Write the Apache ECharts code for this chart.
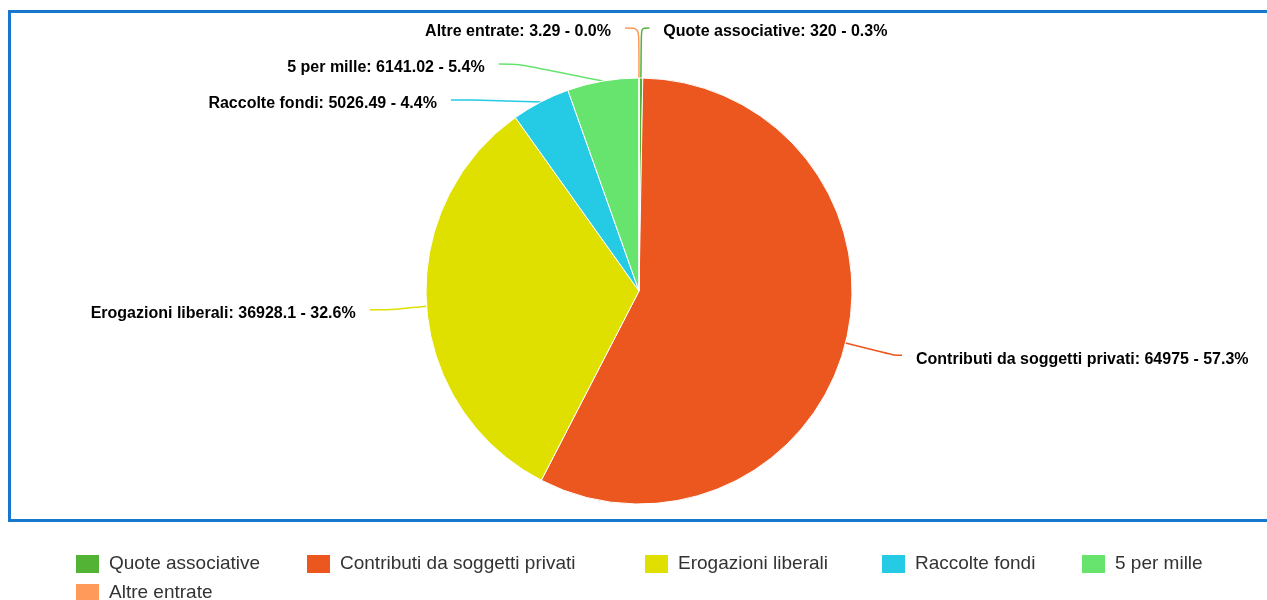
<!DOCTYPE html>
<html><head><meta charset="utf-8">
<script src="https://cdn.jsdelivr.net/npm/echarts@6/dist/echarts.min.js"></script>
<style>html,body{margin:0;padding:0;background:#fff}#c{width:1267px;height:600px}</style>
</head><body><div id="c"></div>
<script>
const categories = ["Quote associative","Contributi da soggetti privati","Erogazioni liberali","Raccolte fondi","5 per mille","Altre entrate"];
const values = [320, 64975, 36928.1, 5026.49, 6141.02, 3.29];
const colors = ["#52b334","#ec561f","#dfe000","#25cae4","#66e46e","#ff9a5a"];
const legendLeft = [74, 305, 643, 880, 1080, 74];
const legendTop = [553, 553, 553, 553, 553, 582];
const lineLen2 = [8, 8, 21, 21, 21, 14];

const total = values.reduce((a,b)=>a+b,0);
const chart = echarts.init(document.getElementById('c'));
chart.setOption({
  animation:false,
  color: colors,
  graphic:[{type:'rect',shape:{x:9.5,y:11.5,width:1300,height:509},style:{fill:'none',stroke:'#1677cc',lineWidth:3},z:-1}],
  legend: categories.map((n,i)=>({
    data:[n], left:legendLeft[i], top:legendTop[i], padding:0,
    itemWidth:25, itemHeight:20, icon:'rect',
    textStyle:{fontSize:19, color:'#333', padding:[0,0,0,4], fontFamily:'Liberation Sans, Arial, sans-serif'}
  })),
  series:[{
    type:'pie', center:[639,291], radius:[0,213],
    startAngle:90, clockwise:true,
    itemStyle:{borderColor:'#fff', borderWidth:1},
    label:{
      formatter:p=>p.name+': '+p.value+' - '+(p.value/total*100).toFixed(1)+'%',
      fontSize:16, fontWeight:'bold', color:'#000', lineHeight:34,
      distanceToLabelLine:14,
      fontFamily:'Liberation Sans, Arial, sans-serif'
    },
    labelLayout:{dy:4},
    labelLine:{length:50, smooth:0.3, lineStyle:{width:1.5}},
    data: categories.map((n,i)=>({name:n, value:values[i], labelLine:{length2:lineLen2[i]}}))
  }]
});
</script></body></html>
